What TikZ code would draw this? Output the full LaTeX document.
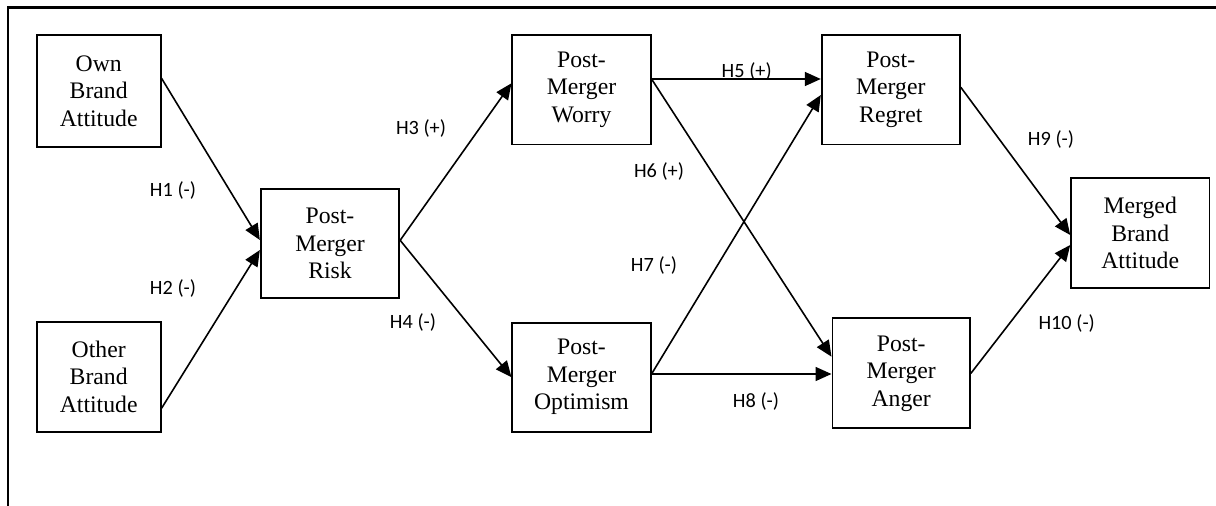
\documentclass[tikz,border=0pt]{standalone}
\usepackage{fontspec}
\setmainfont{Liberation Serif}
\newfontfamily\labfont{Carlito}
\usetikzlibrary{arrows.meta}
\begin{document}
\begin{tikzpicture}[x=1pt,y=-1pt,
  box/.style={draw,line width=1.7pt,align=center,inner sep=0pt,font=\fontsize{23.7}{27.5}\selectfont},
  arr/.style={line width=1.6pt,-{Triangle[length=16pt,width=14pt]}},
  lab/.style={font=\labfont\fontsize{20.3}{24}\selectfont,inner sep=0pt}]
\useasboundingbox (0,0) rectangle (1216,506);
\draw[line width=2.5pt] (8,506) -- (8,7.5) -- (1216,7.5);

\node[box,minimum width=124pt,minimum height=111.7pt] (own) at (98.7,90.8) {Own\\Brand\\Attitude};
\node[box,minimum width=124pt,minimum height=110pt] (other) at (98.7,376.7) {Other\\Brand\\Attitude};
\node[box,minimum width=138.6pt,minimum height=109pt] (risk) at (330,243.8) {Post-\\Merger\\Risk};
\node[box,minimum width=138.4pt,minimum height=109.3pt] (worry) at (581.5,89.7) {Post-\\Merger\\Worry};
\node[box,minimum width=138.4pt,minimum height=109pt] (opt) at (581.5,377.2) {Post-\\Merger\\Optimism};
\node[box,minimum width=138.3pt,minimum height=109.3pt] (regret) at (890.8,89.7) {Post-\\Merger\\Regret};
\node[box,minimum width=137.7pt,minimum height=110pt] (anger) at (901.2,373.3) {Post-\\Merger\\Anger};
\node[box,minimum width=138.3pt,minimum height=109.4pt] (merged) at (1140.2,233) {Merged\\Brand\\Attitude};

\draw[arr] ([yshift=12.5pt]own.east) -- ([yshift=3.8pt]risk.west);
\draw[arr] ([yshift=-31.6pt]other.east) -- ([yshift=-6.2pt]risk.west);
\draw[arr] ([yshift=3.5pt]risk.east) -- ([yshift=6.4pt]worry.west);
\draw[arr] ([yshift=3.5pt]risk.east) -- (opt.west);
\draw[arr] ([yshift=10.7pt]worry.east) -- ([yshift=10.7pt]regret.west);
\draw[arr] ([yshift=10.7pt]worry.east) -- ([yshift=16.6pt]anger.west);
\draw[arr] ([yshift=3.2pt]opt.east) -- ([yshift=-5.3pt]regret.west);
\draw[arr] ([yshift=3.2pt]opt.east) -- ([yshift=-0.7pt]anger.west);
\draw[arr] ([yshift=2.4pt]regret.east) -- ([yshift=-2pt]merged.west);
\draw[arr] (anger.east) -- ([yshift=-12pt]merged.west);

\node[lab] (h1) at (173,190) {H1 (-)};
\node[lab] (h2) at (173,288) {H2 (-)};
\node[lab] (h3) at (421,128) {H3 (+)};
\node[lab] (h4) at (413,322.7) {H4 (-)};
\node[lab] (h5) at (746.7,71.7) {H5 (+)};
\node[lab] (h6) at (659,171.7) {H6 (+)};
\node[lab] (h7) at (654,265) {H7 (-)};
\node[lab] (h8) at (756,401.7) {H8 (-)};
\node[lab] (h9) at (1051,139.3) {H9 (-)};
\node[lab] (h10) at (1066.7,323.3) {H10 (-)};
\end{tikzpicture}
\end{document}
